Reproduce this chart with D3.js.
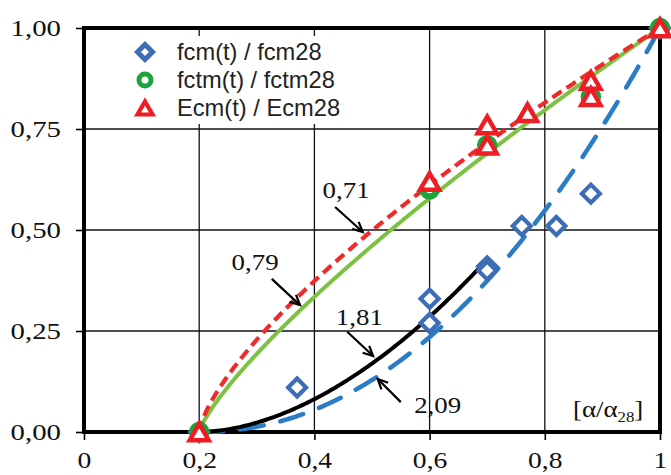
<!DOCTYPE html>
<html><head><meta charset="utf-8">
<script src="https://cdn.jsdelivr.net/npm/d3@7"></script>
<style>html,body{margin:0;padding:0;background:#fff;}</style>
</head><body>
<svg id="c" width="671" height="475"></svg>
<script>
// ---- data ----
const xTicks = [0, 0.2, 0.4, 0.6, 0.8, 1];
const xTickLabels = ["0", "0,2", "0,4", "0,6", "0,8", "1"];
const yTicks = [0, 0.25, 0.5, 0.75, 1];
const yTickLabels = ["0,00", "0,25", "0,50", "0,75", "1,00"];

const seriesNames = ["fcm(t) / fcm28", "fctm(t) / fctm28", "Ecm(t) / Ecm28"];
const fcmX = [0.2, 0.37, 0.6, 0.6, 0.7, 0.7, 0.76, 0.82, 0.88, 1.0];
const fcmY = [0.0, 0.11, 0.33, 0.27, 0.41, 0.40, 0.51, 0.51, 0.59, 1.0];
const fctmX = [0.2, 0.6, 0.7, 0.88, 1.0];
const fctmY = [0.0, 0.60, 0.71, 0.83, 1.0];
const ecmX = [0.2, 0.6, 0.7, 0.7, 0.77, 0.88, 0.88, 1.0];
const ecmY = [0.0, 0.62, 0.76, 0.71, 0.79, 0.87, 0.83, 1.0];

// fitted curves y = ((a - a0)/(1 - a0))^n, exponents as labelled in the chart
const curveLabels = ["0,71", "0,79", "1,81", "2,09"];
const curveExponents = [0.71, 0.79, 1.81, 2.09];
const curveStart = 0.2;
const curveEnd = [1.0, 1.0, 0.7, 1.0];

// ---- drawing ----
const svg = d3.select("#c");
const x = d3.scaleLinear([0, 1], [84, 660]);
const y = d3.scaleLinear([0, 1], [432, 28]);
const serif = "'Liberation Serif','Times New Roman',serif";
const sans = "'Liberation Sans',Arial,sans-serif";

svg.append("rect").attr("width", 671).attr("height", 475).attr("fill", "#fff");

// grid
const grid = svg.append("g").attr("stroke", "#111").attr("stroke-width", 1.3);
xTicks.filter(d => d > 0 && d < 1).forEach(d =>
  grid.append("line").attr("x1", x(d)).attr("x2", x(d)).attr("y1", y(0)).attr("y2", y(1)));
yTicks.filter(d => d > 0 && d < 1).forEach(d =>
  grid.append("line").attr("y1", y(d)).attr("y2", y(d)).attr("x1", x(0)).attr("x2", x(1)));

// legend background
svg.append("rect").attr("x", 118).attr("y", 36).attr("width", 310).attr("height", 88).attr("fill", "#fff");

// axes
const ax = svg.append("g").attr("transform", `translate(0,${y(0)})`)
  .call(d3.axisBottom(x).tickValues(xTicks).tickFormat((d, i) => xTickLabels[i]).tickSize(8).tickSizeOuter(0).tickPadding(12));
const ay = svg.append("g").attr("transform", `translate(${x(0)},0)`)
  .call(d3.axisLeft(y).tickValues(yTicks).tickFormat((d, i) => yTickLabels[i]).tickSize(8).tickSizeOuter(0).tickPadding(15));
[ax, ay].forEach(a => {
  a.select(".domain").remove();
  a.selectAll("line").attr("stroke", "#000").attr("stroke-width", 1.6);
  a.selectAll("text").attr("font-family", serif).attr("font-size", 24).attr("fill", "#111");
});
ax.selectAll("text").attr("font-size", 23).attr("transform", "scale(1.2,1)");
ay.selectAll("text").each(function () {
  const t = d3.select(this); const tx = +t.attr("x");
  t.attr("x", 0).attr("transform", `translate(${tx},0) scale(1.2,1)`);
});

// frame
svg.append("rect").attr("x", x(0)).attr("y", y(1)).attr("width", x(1) - x(0)).attr("height", y(0) - y(1))
  .attr("fill", "none").attr("stroke", "#000").attr("stroke-width", 4);

// curves
const line = d3.line().x(d => x(d[0])).y(d => y(d[1]));
const curveStyles = [
  {stroke: "#ee2a2a", width: 4.2, dash: "11,6", cap: "butt"},
  {stroke: "#7cc242", width: 4, dash: null, cap: "butt"},
  {stroke: "#000", width: 4, dash: null, cap: "butt"},
  {stroke: "#2a7cc6", width: 4.5, dash: "24,17", cap: "round"}
];
const drawOrder = [3, 2, 1, 0];
drawOrder.forEach(i => {
  const n = curveExponents[i];
  const pts = d3.range(curveStart, curveEnd[i], 0.004).concat([curveEnd[i]])
    .map(a => [a, Math.pow((a - curveStart) / (1 - curveStart), n)]);
  const s = curveStyles[i];
  svg.append("path").attr("d", line(pts)).attr("fill", "none")
    .attr("stroke", s.stroke).attr("stroke-width", s.width)
    .attr("stroke-dasharray", s.dash).attr("stroke-linecap", s.cap);
});

// markers
const diamond = h => `M0,${-h}L${h},0L0,${h}L${-h},0Z`;
const triangle = s => { const hh = s * Math.sqrt(3) / 2; return `M0,${-hh/2}L${s/2},${hh/2}L${-s/2},${hh/2}Z`; };
const blue = "#3d6db5", green = "#1ea23c", red = "#ee1c24";

function drawDiamonds(g, xs, ys, h, sw) {
  xs.forEach((v, i) => g.append("path").attr("d", diamond(h))
    .attr("transform", `translate(${x(v)},${y(ys[i])})`)
    .attr("fill", "#fff").attr("stroke", blue).attr("stroke-width", sw).attr("stroke-linejoin", "miter"));
}
function drawCircles(g, xs, ys, r, sw) {
  xs.forEach((v, i) => g.append("circle").attr("cx", x(v)).attr("cy", y(ys[i])).attr("r", r)
    .attr("fill", "#fff").attr("stroke", green).attr("stroke-width", sw));
}
function drawTriangles(g, xs, ys, s, sw) {
  xs.forEach((v, i) => g.append("path").attr("d", triangle(s))
    .attr("transform", `translate(${x(v)},${y(ys[i])})`)
    .attr("fill", "#fff").attr("stroke", red).attr("stroke-width", sw).attr("stroke-linejoin", "miter"));
}
const mk = svg.append("g");
drawDiamonds(mk, fcmX, fcmY, 9, 4.2);
drawCircles(mk, fctmX, fctmY, 7, 6.5);
drawTriangles(mk, ecmX, ecmY, 19, 4.5);

// annotations (data coordinates)
const annText = [[0.455, 0.579], [0.297, 0.401], [0.478, 0.265], [0.614, 0.047]];
const annFrom = [[0.436, 0.557], [0.326, 0.379], [0.457, 0.248], [0.550, 0.074]];
const annTo = [[0.484, 0.495], [0.375, 0.314], [0.502, 0.188], [0.510, 0.131]];
const annOrder = [0, 1, 2, 3];
annOrder.forEach(i => {
  svg.append("text").attr("transform", `translate(${x(annText[i][0])},${y(annText[i][1])}) scale(1.12,1)`)
    .attr("text-anchor", "middle").attr("font-family", serif).attr("font-size", 24).attr("fill", "#111")
    .text(curveLabels[i]);
  const x1 = x(annFrom[i][0]), y1 = y(annFrom[i][1]), x2 = x(annTo[i][0]), y2 = y(annTo[i][1]);
  svg.append("line").attr("x1", x1).attr("y1", y1).attr("x2", x2).attr("y2", y2)
    .attr("stroke", "#000").attr("stroke-width", 2.2);
  const ang = Math.atan2(y2 - y1, x2 - x1), L = 11, w = 0.45;
  const p1 = [x2 - L * Math.cos(ang - w), y2 - L * Math.sin(ang - w)];
  const p2 = [x2 - L * Math.cos(ang + w), y2 - L * Math.sin(ang + w)];
  svg.append("path").attr("d", `M${p1}L${x2},${y2}L${p2}`).attr("fill", "none")
    .attr("stroke", "#000").attr("stroke-width", 2.2);
});

// axis title inside plot
const at = svg.append("text").attr("transform", "translate(573,417) scale(1.12,1)").attr("font-family", serif)
  .attr("font-size", 24).attr("fill", "#111");
at.append("tspan").text("[α/α");
at.append("tspan").attr("font-size", 15).attr("dy", 5).text("28");
at.append("tspan").attr("dy", -5).text("]");

// legend
const lg = svg.append("g");
const rowsY = [52, 80, 108];
lg.append("path").attr("d", diamond(7.5)).attr("transform", `translate(145,${rowsY[0]})`)
  .attr("fill", "#fff").attr("stroke", blue).attr("stroke-width", 5);
lg.append("circle").attr("cx", 145).attr("cy", rowsY[1]).attr("r", 6).attr("fill", "#fff")
  .attr("stroke", green).attr("stroke-width", 5);
lg.append("path").attr("d", triangle(15)).attr("transform", `translate(145,${rowsY[2]})`)
  .attr("fill", "#fff").attr("stroke", red).attr("stroke-width", 4.2);
seriesNames.forEach((t, i) => lg.append("text").attr("transform", `translate(177,${rowsY[i] + 8}) scale(1.03,1)`)
  .attr("font-family", sans).attr("font-size", 23).attr("fill", "#222").text(t));
</script>
</body></html>
